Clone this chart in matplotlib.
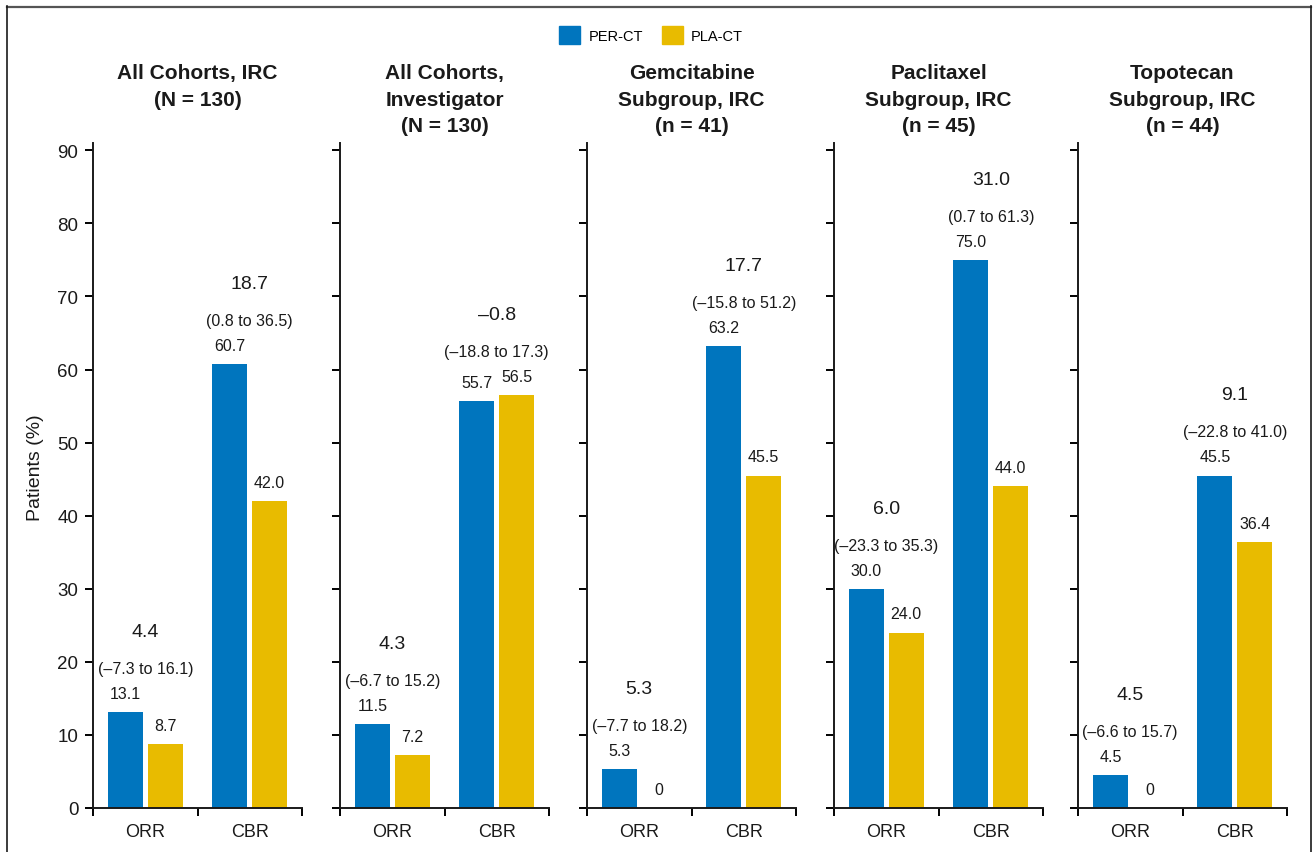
import matplotlib
matplotlib.use("Agg")
import matplotlib.pyplot as plt
from matplotlib.patches import Patch
from matplotlib.lines import Line2D
import numpy as np

plt.rcParams['font.family'] = ['Liberation Sans', 'DejaVu Sans']

# Response data per panel (PER-CT vs PLA-CT)
panel_titles = [
    "All Cohorts, IRC\n(N = 130)",
    "All Cohorts,\nInvestigator\n(N = 130)",
    "Gemcitabine\nSubgroup, IRC\n(n = 41)",
    "Paclitaxel\nSubgroup, IRC\n(n = 45)",
    "Topotecan\nSubgroup, IRC\n(n = 44)",
]
categories = ["ORR", "CBR"]
per_orr = [13.1, 11.5, 5.3, 30.0, 4.5]
pla_orr = [8.7, 7.2, 0.0, 24.0, 0.0]
per_cbr = [60.7, 55.7, 63.2, 75.0, 45.5]
pla_cbr = [42.0, 56.5, 45.5, 44.0, 36.4]
diff_orr = ["4.4", "4.3", "5.3", "6.0", "4.5"]
ci_orr = ["(\u20137.3 to 16.1)", "(\u20136.7 to 15.2)", "(\u20137.7 to 18.2)",
          "(\u201323.3 to 35.3)", "(\u20136.6 to 15.7)"]
diff_cbr = ["18.7", "\u20130.8", "17.7", "31.0", "9.1"]
ci_cbr = ["(0.8 to 36.5)", "(\u201318.8 to 17.3)", "(\u201315.8 to 51.2)",
          "(0.7 to 61.3)", "(\u201322.8 to 41.0)"]

BLUE = "#0075BE"
GOLD = "#E8BB00"
INK = "#1a1a1a"

W, H = 1314, 853
fig = plt.figure(figsize=(W / 100, H / 100), dpi=100)

ax_left_px = [93, 340, 587, 834, 1078]
ax_w_px = 209
ax_bottom_px, ax_top_px = 809, 144

bar_w = 0.335
off = 0.19

def fmt(v):
    return "0" if v == 0 else f"{v:.1f}"

for i, left in enumerate(ax_left_px):
    ax = fig.add_axes([left / W, 1 - ax_bottom_px / H, ax_w_px / W,
                       (ax_bottom_px - ax_top_px) / H])
    centers = np.array([0.5, 1.5])
    per_vals = [per_orr[i], per_cbr[i]]
    pla_vals = [pla_orr[i], pla_cbr[i]]
    ax.bar(centers - off, per_vals, width=bar_w, color=BLUE, zorder=2)
    ax.bar(centers + off, pla_vals, width=bar_w, color=GOLD, zorder=2)

    ax.set_xlim(0, 2)
    ax.set_ylim(0, 91)
    ax.set_yticks(np.arange(0, 91, 10))
    ax.set_xticks([0, 1, 2])
    ax.set_xticklabels([])
    ax.set_xticks(centers, minor=True)
    ax.set_xticklabels(categories, minor=True, fontsize=13, color=INK)
    ax.tick_params(axis='x', which='minor', length=0, pad=10.5)
    ax.tick_params(axis='x', which='major', length=5.5, width=1.4, direction='out')
    ax.tick_params(axis='y', length=5.5, width=1.4, pad=5, labelsize=13.5,
                   labelcolor=INK)
    if i > 0:
        ax.set_yticklabels([])
    for s in ("top", "right"):
        ax.spines[s].set_visible(False)
    for s in ("left", "bottom"):
        ax.spines[s].set_linewidth(1.4)
        ax.spines[s].set_color(INK)

    # bar value labels
    for c, v in zip(centers - off, per_vals):
        ax.annotate(fmt(v), (c, v), xytext=(0, 13.5), textcoords='offset points',
                    ha='center', va='center', fontsize=11.5, color=INK)
    for c, v in zip(centers + off, pla_vals):
        ax.annotate(fmt(v), (c, v), xytext=(0, 13.5), textcoords='offset points',
                    ha='center', va='center', fontsize=11.5, color=INK)

    # difference and confidence interval above each pair
    for c, top, d, ci in zip(centers, [max(per_orr[i], pla_orr[i]), max(per_cbr[i], pla_cbr[i])],
                             [diff_orr[i], diff_cbr[i]], [ci_orr[i], ci_cbr[i]]):
        ax.annotate(ci, (c, top), xytext=(0, 31.5), textcoords='offset points',
                    ha='center', va='center', fontsize=11.5, color=INK)
        ax.annotate(d, (c, top), xytext=(0, 58), textcoords='offset points',
                    ha='center', va='center', fontsize=14, color=INK)

    fig.text((left + ax_w_px / 2) / W, 1 - 64 / H, panel_titles[i],
             ha='center', va='top', fontsize=15, fontweight='bold',
             linespacing=1.5, color=INK)

fig.text(35 / W, 1 - 468 / H, "Patients (%)", rotation=90, ha='center',
         va='center', fontsize=14, color=INK)

handles = [Patch(color=BLUE, label="PER-CT"), Patch(color=GOLD, label="PLA-CT")]
fig.legend(handles=handles, loc='center', bbox_to_anchor=(651 / W, 1 - 36 / H),
           ncol=2, frameon=False, fontsize=10.5, handlelength=1.45,
           handleheight=1.45, handletextpad=0.55, columnspacing=1.3)

# outer frame
fig.add_artist(Line2D([7 / W, 1311 / W], [1 - 7.5 / H, 1 - 7.5 / H], color="#555555", lw=1.6))
fig.add_artist(Line2D([7 / W, 7 / W], [0, 1 - 7 / H], color=INK, lw=1.2))
fig.add_artist(Line2D([1311 / W, 1311 / W], [0, 1 - 7 / H], color=INK, lw=1.2))

fig.savefig("out.png", dpi=100)
